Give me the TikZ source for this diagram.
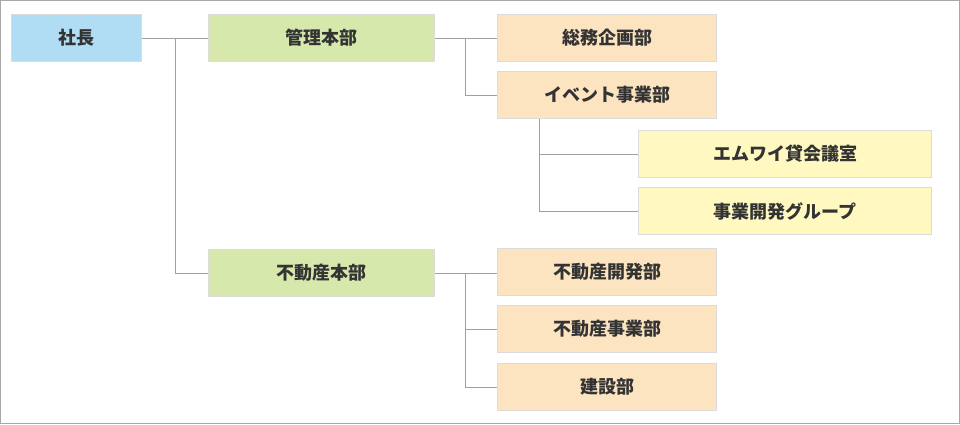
\documentclass[tikz,border=0pt]{standalone}
\usepackage{fontspec}
\newfontfamily\jp{Noto Sans CJK JP}
\definecolor{cblue}{HTML}{B0DDF3}
\definecolor{cgreen}{HTML}{D6E8AC}
\definecolor{corange}{HTML}{FCE4C1}
\definecolor{cyellow}{HTML}{FFF9C1}
\definecolor{boxline}{HTML}{DCDCDC}
\definecolor{linkc}{HTML}{A0A0A0}
\definecolor{framec}{HTML}{A8A8A8}
\definecolor{txt}{HTML}{333333}
\tikzset{
  box/.style={draw=boxline, line width=1pt, minimum height=47pt, inner sep=0pt,
    anchor=north west, text=txt, font=\jp\bfseries\fontsize{18pt}{21pt}\selectfont},
  link/.style={draw=linkc, line width=1pt},
}
\begin{document}
\begin{tikzpicture}[x=1pt,y=-1pt]
\useasboundingbox (0,0) rectangle (960,424);
\draw[framec, line width=1.2pt] (0.6,0.6) rectangle (959.4,423.4);
\node[box, fill=cblue, minimum width=130pt] (shacho) at (11,14) {社長};
\node[box, fill=cgreen, minimum width=226pt] (kanri) at (208,14) {管理本部};
\node[box, fill=cgreen, minimum width=226pt] (fudosan) at (208,249) {不動産本部};
\node[box, fill=corange, minimum width=219pt] (somu) at (497,14) {総務企画部};
\node[box, fill=corange, minimum width=219pt] (event) at (497,71) {イベント事業部};
\node[box, fill=cyellow, minimum width=293pt] (kaigi) at (638,130) {エムワイ貸会議室};
\node[box, fill=cyellow, minimum width=293pt] (jigyo) at (638,187) {事業開発グループ};
\node[box, fill=corange, minimum width=219pt] (fkaihatsu) at (497,248) {不動産開発部};
\node[box, fill=corange, minimum width=219pt] (fjigyo) at (497,305) {不動産事業部};
\node[box, fill=corange, minimum width=219pt] (kensetsu) at (497,363) {建設部};
\coordinate (c1) at (175,0);
\coordinate (c2) at (465,0);
\coordinate (c3) at (539.5,0);
\draw[link] (shacho.east) -- (kanri.west);
\draw[link] (c1 |- shacho.east) |- (fudosan.west);
\draw[link] (kanri.east) -- (somu.west);
\draw[link] (c2 |- kanri.east) |- (event.west);
\draw[link] (c3 |- event.south) |- (jigyo.west);
\draw[link] (c3 |- kaigi.west) -- (kaigi.west);
\draw[link] (fudosan.east) -- (fudosan.east -| fkaihatsu.west);
\draw[link] (c2 |- fudosan.east) |- (kensetsu.west);
\draw[link] (c2 |- fjigyo.west) -- (fjigyo.west);
\end{tikzpicture}
\end{document}
